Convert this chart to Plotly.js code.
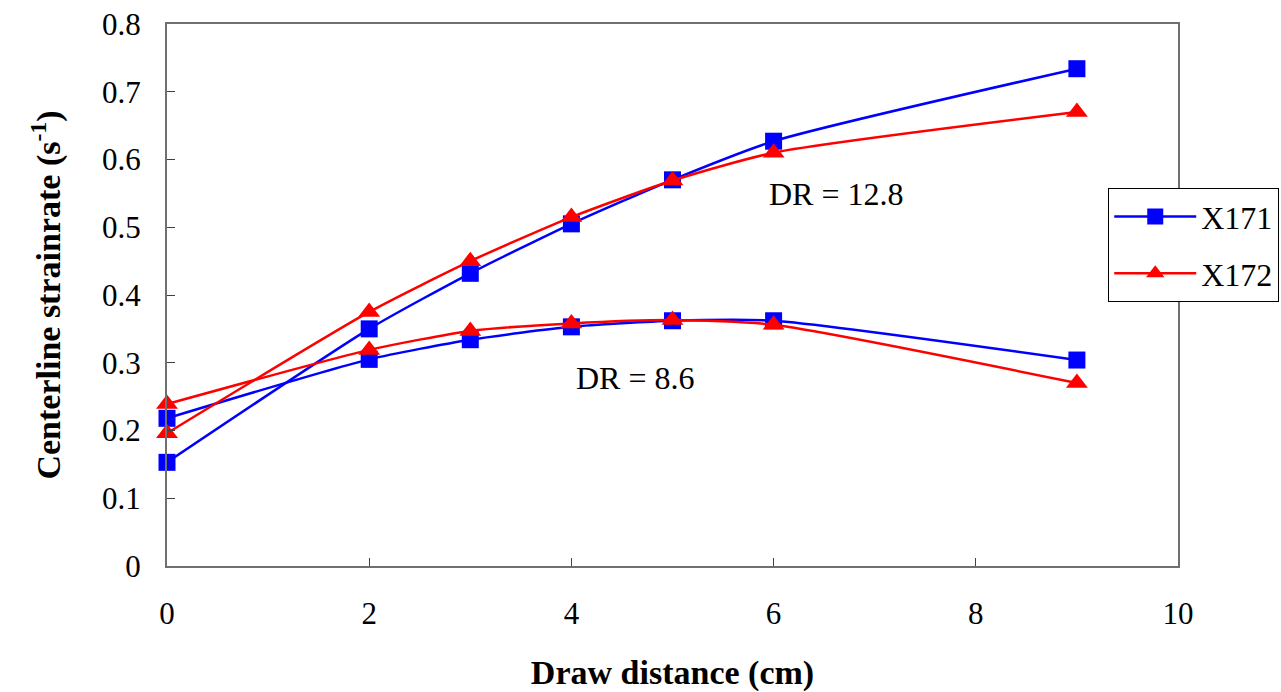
<!DOCTYPE html>
<html><head><meta charset="utf-8">
<script src="https://cdn.plot.ly/plotly-3.0.1.min.js"></script>
<style>body{margin:0;background:#fff}</style>
</head><body><div id="chart" style="width:1281px;height:692px"></div>
<script>
const drawDistance = [0, 2, 3, 4, 5, 6, 9];
const x171_dr128 = [0.153, 0.350, 0.432, 0.505, 0.570, 0.627, 0.734];
const x171_dr86  = [0.218, 0.305, 0.334, 0.353, 0.362, 0.362, 0.304];
const x172_dr128 = [0.196, 0.375, 0.450, 0.515, 0.569, 0.610, 0.670];
const x172_dr86  = [0.239, 0.319, 0.347, 0.358, 0.363, 0.356, 0.270];
const seriesNames = ['X171', 'X172'];
const annotationTexts = ['DR = 12.8', 'DR = 8.6'];

const blue = '#0000ff', red = '#ff0000';
function tr(y, name, color, symbol, size, show) {
  return {x: drawDistance, y: y, name: name, legendgroup: name, showlegend: show,
    mode: 'lines+markers', type: 'scatter', cliponaxis: false,
    line: {color: color, width: 2.5, shape: 'spline', smoothing: 0.6},
    marker: {color: color, symbol: symbol, size: size}};
}
const data = [
  tr(x171_dr128, seriesNames[0], blue, 'square', 17, true),
  tr(x171_dr86, seriesNames[0], blue, 'square', 17, false),
  tr(x172_dr128, seriesNames[1], red, 'triangle-up', 19, true),
  tr(x172_dr86, seriesNames[1], red, 'triangle-up', 19, false)
];
const serif = 'Liberation Serif';
const layout = {
  width: 1281, height: 692,
  margin: {l: 167, r: 103, t: 24, b: 126, autoexpand: false},
  paper_bgcolor: '#fff', plot_bgcolor: '#fff',
  font: {family: serif, color: '#000', size: 31},
  xaxis: {range: [0, 10], dtick: 2, showgrid: false, zeroline: false,
    showline: true, mirror: true, linecolor: '#707070', linewidth: 2,
    ticks: 'inside', ticklen: 8, tickcolor: '#404040', tickwidth: 1,
    ticklabelstandoff: 19,
    tickfont: {size: 31, family: serif},
    title: {text: 'Draw distance (cm)', font: {size: 34, family: serif, weight: 'bold'}, standoff: 32}},
  yaxis: {range: [0, 0.8], dtick: 0.1, showgrid: false, zeroline: false,
    showline: true, mirror: true, linecolor: '#707070', linewidth: 2,
    ticks: 'inside', ticklen: 8, tickcolor: '#404040', tickwidth: 1,
    ticklabelstandoff: 18,
    tickfont: {size: 31, family: serif},
    title: {text: 'Centerline strainrate (s<sup>-1</sup>)', font: {size: 34, family: serif, weight: 'bold'}, standoff: 31}},
  legend: {x: 0.931, y: 0.697, xanchor: 'left', yanchor: 'top',
    bgcolor: '#fff', bordercolor: '#000', borderwidth: 1,
    font: {size: 32, family: serif}, itemwidth: 82, tracegroupgap: 12},
  showlegend: true,
  annotations: [
    {x: 5.93, y: 0.549, xref: 'x', yref: 'y', text: annotationTexts[0], showarrow: false, xanchor: 'left', font: {size: 32, family: serif}},
    {x: 4.03, y: 0.2775, xref: 'x', yref: 'y', text: annotationTexts[1], showarrow: false, xanchor: 'left', font: {size: 32, family: serif}}
  ]
};
Plotly.newPlot('chart', data, layout, {displayModeBar: false});
</script></body></html>
